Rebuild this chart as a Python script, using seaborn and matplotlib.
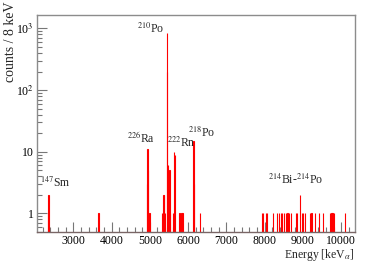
import numpy as np
import pandas as pd
import matplotlib
matplotlib.use("Agg")
import matplotlib.pyplot as plt
import matplotlib.ticker as mticker
import seaborn as sns

# alpha energies (keV) and counts per 8 keV bin
energy = [2340, 2348, 3652,
          4924, 4932, 4940, 4948, 4988,
          5316, 5356, 5364, 5396,
          5444, 5452, 5468, 5476, 5508, 5524,
          5604, 5620, 5660,
          5772, 5820, 5852,
          6140, 6148, 6308,
          7936, 7960, 8032, 8064, 8220, 8312, 8372, 8416, 8456, 8500,
          8548, 8588, 8632, 8676, 8808, 8848, 8920, 8964, 9004, 9052,
          9180, 9220, 9308, 9412, 9528, 9700, 9740, 9768, 9808, 10092]
counts = [1, 2, 1,
          3, 11, 5, 1, 1,
          1, 2, 2, 1,
          850, 200, 6, 5, 5, 1,
          1, 10, 9,
          1, 1, 1,
          15, 3, 1,
          1, 1, 1, 1, 1, 1, 1, 1, 1, 1,
          1, 1, 1, 1, 1, 1, 2, 1, 1, 1,
          1, 1, 1, 1, 1, 1, 1, 1, 1, 1]

labels = ["$^{147}$Sm", "$^{226}$Ra", "$^{210}$Po", "$^{222}$Rn", "$^{218}$Po",
          "$^{214}$Bi-$^{214}$Po"]
label_x = [2131, 4781, 5016, 5812, 6360, 8815]
label_y = [3.1, 17.3, 980, 13.8, 20.5, 3.5]
label_ha = ["left", "center", "center", "center", "center", "center"]

df = pd.DataFrame({"energy": energy, "counts": counts})

sns.set_style("ticks")
plt.rcParams["font.family"] = ["Liberation Serif", "DejaVu Serif"]
plt.rcParams["mathtext.fontset"] = "stix"

fig = plt.figure(figsize=(3.74, 2.63), dpi=100)
ax = fig.add_axes([0.098, 0.118, 0.851, 0.825])

sns.histplot(data=df, x="energy", weights="counts", binwidth=8,
             binrange=(2044, 10356), ax=ax,
             color="#ff0000", alpha=0.45, edgecolor="#ff0000",
             linewidth=0.8, element="bars")
ax.set_yscale("log")
ax.set_xlim(2045, 10355)
ax.set_ylim(0.5, 1650)

for t, x, y, ha in zip(labels, label_x, label_y, label_ha):
    ax.text(x, y, t, ha=ha, va="center", fontsize=8.5)

# ROOT-like axes
for s in ax.spines.values():
    s.set_color("#8c8c8c")
    s.set_linewidth(1.0)
ax.spines["bottom"].set_color("#7a6666")

ax.xaxis.set_major_locator(mticker.MultipleLocator(1000))
ax.xaxis.set_minor_locator(mticker.MultipleLocator(200))
ax.xaxis.set_major_formatter(mticker.FuncFormatter(
    lambda v, p: "" if v < 2500 else f"{int(v)}"))
ax.yaxis.set_major_locator(mticker.FixedLocator([1, 10, 100, 1000]))
ax.yaxis.set_major_formatter(mticker.FixedFormatter(
    ["1", "10", "10$^2$", "10$^3$"]))
ax.yaxis.set_minor_locator(mticker.LogLocator(base=10, subs=np.arange(2, 10)))
ax.yaxis.set_minor_formatter(mticker.NullFormatter())

ax.tick_params(which="both", direction="in", colors="#777777",
               labelcolor="black", labelsize=8.5, width=0.8)
ax.tick_params(which="major", length=7)
ax.tick_params(which="minor", length=3.5)
ax.tick_params(axis="x", pad=2.5)
ax.tick_params(axis="y", pad=2)

ax.set_ylabel("")
ax.set_xlabel("Energy [keV$_\\alpha$]", fontsize=8.5, loc="right")
ax.xaxis.set_label_coords(1.0, -0.07)
fig.text(0.027, 0.995, "counts / 8 keV", rotation=90, ha="center", va="top",
         fontsize=10)

fig.savefig("out.png", dpi=100)
